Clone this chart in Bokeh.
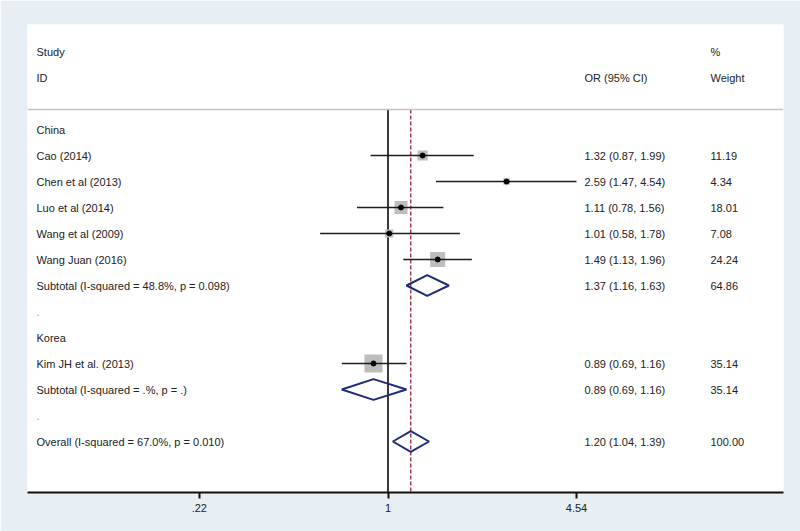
import numpy as np
from bokeh.plotting import figure
from bokeh.models import Range1d, FixedTicker, CustomJSTickFormatter, Span
from bokeh.core.properties import value
from bokeh.embed import file_html
from bokeh.resources import INLINE

# ---------------- data ----------------
groups = ["China", "Korea"]
study_labels = ["Cao  (2014)", "Chen et al (2013)", "Luo et al (2014)",
                "Wang et al (2009)", "Wang Juan  (2016)", "Kim JH et al. (2013)"]
study_group = ["China", "China", "China", "China", "China", "Korea"]
study_or = [1.32, 2.59, 1.11, 1.01, 1.49, 0.89]
study_lo = [0.87, 1.47, 0.78, 0.58, 1.13, 0.69]
study_hi = [1.99, 4.54, 1.56, 1.78, 1.96, 1.16]
study_weight = [11.19, 4.34, 18.01, 7.08, 24.24, 35.14]

subtotal_labels = ["Subtotal  (I-squared = 48.8%, p = 0.098)",
                   "Subtotal  (I-squared = .%, p = .)"]
subtotal_or = [1.37, 0.89]
subtotal_lo = [1.16, 0.69]
subtotal_hi = [1.63, 1.16]
subtotal_weight = [64.86, 35.14]

overall_label = "Overall  (I-squared = 67.0%, p = 0.010)"
overall_or = 1.20
overall_lo = 1.04
overall_hi = 1.39
overall_weight = 100.00

tick_values = [0.22, 1, 4.54]
tick_labels = [".22", "1", "4.54"]

# ---------------- layout constants ----------------
FRAME_W, FRAME_H = 756, 468
PX_PER_LN = 124.6      # pixels per unit of ln(OR)
X_ONE_PX = 360.5       # frame-relative pixel of OR = 1
ROW_PX = 26.0
ROW0_PX = 105.0        # frame-relative pixel of first row
FONT = "Liberation Sans"
FS = "11px"
TXT = "#222222"


def px2x(px):
    return float(np.exp((px - X_ONE_PX) / PX_PER_LN))


x_start, x_end = px2x(0), px2x(FRAME_W)
y_top = -ROW0_PX / ROW_PX
y_bot = (FRAME_H - ROW0_PX) / ROW_PX
header_line_row = -20.0 / ROW_PX

# ---------------- row assignment ----------------
row = 0
group_rows, study_rows, subtotal_rows, spacer_rows = [], [None] * len(study_or), [], []
for gi, g in enumerate(groups):
    group_rows.append(row); row += 1
    for i, sg in enumerate(study_group):
        if sg == g:
            study_rows[i] = row; row += 1
    subtotal_rows.append(row); row += 1
    spacer_rows.append(row); row += 1
overall_row = row

p = figure(frame_width=FRAME_W, frame_height=FRAME_H, x_axis_type="log",
           x_range=Range1d(x_start, x_end), y_range=Range1d(y_bot, y_top),
           output_backend="svg", toolbar_location=None, y_axis_location=None,
           min_border_left=27, min_border_right=17, min_border_top=24, min_border_bottom=39)
p.background_fill_color = "white"
p.border_fill_color = "#e7eef4"
p.outline_line_color = None
p.grid.visible = False

# header separator
p.add_layout(Span(location=header_line_row, dimension="width", line_color="#c4c4c4", line_width=1.5))

# reference line at 1 and dashed overall line
p.segment(x0=[1], y0=[header_line_row], x1=[1], y1=[y_bot], line_color="#1c1414", line_width=1.7)
p.segment(x0=[overall_or], y0=[header_line_row], x1=[overall_or], y1=[y_bot],
          line_color="#9e3a58", line_width=1.5, line_dash="4 2")

# study boxes, CIs, points
sizes = [3.05 * np.sqrt(w) for w in study_weight]
p.scatter(x=study_or, y=study_rows, size=sizes, marker="square",
          fill_color="#bdbdbd", line_color=None)
p.segment(x0=study_lo, y0=study_rows, x1=study_hi, y1=study_rows,
          line_color="#1e1e1e", line_width=1.6)
p.scatter(x=study_or, y=study_rows, size=5, fill_color="black", line_color="black")

# diamonds
d_or = subtotal_or + [overall_or]
d_lo = subtotal_lo + [overall_lo]
d_hi = subtotal_hi + [overall_hi]
d_rows = subtotal_rows + [overall_row]
H = 0.4
xs = [[lo, e, hi, e] for lo, e, hi in zip(d_lo, d_or, d_hi)]
ys = [[r, r - H, r, r + H] for r in d_rows]
p.patches(xs=xs, ys=ys, fill_color=None, line_color="#1f2c78", line_width=2)


def txt(x, y, t, color=TXT):
    p.text(x=x, y=y, text=t, text_font=value(FONT), text_font_size=value(FS),
           text_baseline="middle", text_align="left", text_color=color)


X_LAB, X_OR, X_W = px2x(9), px2x(557), px2x(683)

# headers
txt([X_LAB, X_LAB], [-3, -2], ["Study", "ID"])
txt([X_OR], [-2], ["OR (95% CI)"])
txt([X_W, X_W], [-3, -2], ["%", "Weight"])

# left column
txt([X_LAB] * len(groups), group_rows, groups)
txt([X_LAB] * len(study_labels), study_rows, study_labels)
txt([X_LAB] * len(subtotal_labels), subtotal_rows, subtotal_labels)
txt([X_LAB] * len(spacer_rows), spacer_rows, ["."] * len(spacer_rows), color="#8a8a8a")
txt([X_LAB], [overall_row], [overall_label])

# right columns
all_or = study_or + d_or
all_lo = study_lo + d_lo
all_hi = study_hi + d_hi
all_w = study_weight + subtotal_weight + [overall_weight]
all_rows = study_rows + d_rows
or_txt = [f"{e:.2f} ({lo:.2f}, {hi:.2f})" for e, lo, hi in zip(all_or, all_lo, all_hi)]
w_txt = [f"{w:.2f}" for w in all_w]
txt([X_OR] * len(or_txt), all_rows, or_txt)
txt([X_W] * len(w_txt), all_rows, w_txt)

# x axis
ax = p.xaxis[0]
ax.ticker = FixedTicker(ticks=tick_values)
ax.formatter = CustomJSTickFormatter(args=dict(vals=tick_values, labs=tick_labels), code="""
for (let i = 0; i < vals.length; i++) { if (Math.abs(vals[i] - tick) < 1e-9) return labs[i]; }
return "";
""")
ax.axis_line_color = "#111111"
ax.axis_line_width = 2
ax.major_tick_line_color = "#111111"
ax.major_tick_line_width = 2
ax.major_tick_out = 6
ax.major_tick_in = 0
ax.minor_tick_line_color = None
ax.major_label_text_font = FONT
ax.major_label_text_font_size = FS
ax.major_label_text_color = TXT
ax.major_label_standoff = 5

open("out.html", "w").write(file_html(p, INLINE))
